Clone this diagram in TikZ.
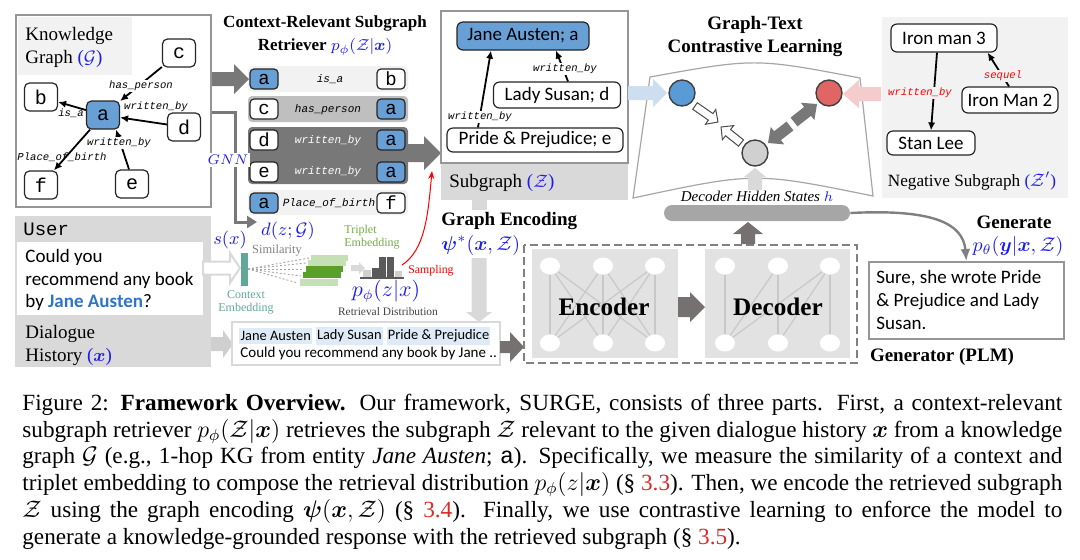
\documentclass[tikz,border=0pt]{standalone}
\usepackage{amsmath}
\usepackage{bm}
\usepackage{fontspec}
\setmainfont{Liberation Serif}
\setmonofont{Liberation Mono}
\newfontfamily\carl{Carlito}
\usetikzlibrary{arrows.meta,calc,shapes.geometric}
\newcommand{\fsz}[2]{\fontsize{#1}{#2}\selectfont}
\definecolor{mblue}{RGB}{30,30,235}
\definecolor{nodeblue}{RGB}{104,159,213}
\definecolor{framegray}{RGB}{150,150,150}
\definecolor{lgray}{RGB}{242,242,242}
\definecolor{mgray}{RGB}{191,191,191}
\definecolor{dgray}{RGB}{120,120,120}
\definecolor{darr}{RGB}{118,113,113}
\definecolor{bandgray}{RGB}{217,217,217}
\definecolor{arrlg}{RGB}{207,207,207}
\definecolor{tealc}{RGB}{95,168,152}
\definecolor{tgreen}{RGB}{112,173,71}
\definecolor{lgreen}{RGB}{197,224,180}
\definecolor{dgreen}{RGB}{90,160,40}
\definecolor{hlblue}{RGB}{222,235,247}
\definecolor{jblue}{RGB}{46,117,200}
\definecolor{cblue}{RGB}{91,155,213}
\definecolor{cred}{RGB}{224,102,102}
\definecolor{cgray}{RGB}{208,208,208}
\definecolor{arrblue}{RGB}{204,222,240}
\definecolor{arrpink}{RGB}{244,204,204}
\definecolor{encgray}{RGB}{226,226,226}
\definecolor{hbarc}{RGB}{166,166,166}
\definecolor{histc}{RGB}{90,90,90}
\definecolor{capred}{RGB}{220,40,40}
\definecolor{elink}{RGB}{200,200,200}
\newcommand{\blkarrow}[6]{%
  \coordinate (ba) at #2; \coordinate (bb) at #3;
  \coordinate (bh) at ($(bb)!#6!(ba)$);
  \path[#1] ($(ba)!#4!90:(bb)$) -- ($(bh)!#4!-90:(ba)$) -- ($(bh)!#5!-90:(ba)$) -- (bb)
     -- ($(bh)!#5!90:(ba)$) -- ($(bh)!#4!90:(ba)$) -- ($(ba)!#4!-90:(bb)$) -- cycle;}
\tikzset{
 kgn/.style={draw=black!85, line width=0.6pt, rounded corners=2.5pt, fill=white, minimum width=16.5pt, minimum height=14pt, inner sep=0pt, font=\ttfamily\fsz{10}{12}},
 kgb/.style={kgn, fill=nodeblue},
 rn/.style={kgn, minimum width=14pt, minimum height=10pt, rounded corners=2pt, font=\ttfamily\fsz{9.5}{11}},
 rnb/.style={rn, fill=nodeblue},
 elab/.style={font=\ttfamily\itshape\fsz{5.3}{6}, inner sep=0.6pt, fill=white},
 rlab/.style={font=\ttfamily\itshape\fsz{5.5}{6}, inner sep=0pt},
 sn/.style={draw=black!85, line width=0.6pt, rounded corners=3pt, fill=white, inner sep=0pt, font=\carl\fsz{9.5}{11}},
 kedge/.style={draw=black, line width=0.9pt, -{Latex[length=4pt,width=3.6pt]}},
 kframe/.style={draw=framegray, line width=1.2pt, fill=white},
 sertxt/.style={font=\fsz{9.5}{11.5}, inner sep=0pt},
 bttl/.style={font=\bfseries\fsz{9.5}{11.5}, inner sep=0pt},
 smalltxt/.style={font=\fsz{6}{6.5}, inner sep=0pt},
 mathb/.style={text=mblue, inner sep=0pt},
 enode/.style={ellipse, fill=white, minimum width=10pt, minimum height=8.5pt, inner sep=0pt},
 elk/.style={draw=elink, line width=0.6pt},
 hlt/.style={fill=hlblue, font=\carl\fsz{7.2}{9}, inner xsep=0.6pt, inner ysep=1.5pt},
 captxt/.style={font=\fsz{11.6}{13.5}, inner sep=0pt, anchor=base west},
 circ/.style={circle, draw=black!75, line width=0.7pt, minimum size=13pt, inner sep=0pt}
}
\begin{document}
\begin{tikzpicture}[x=0.5pt,y=-0.5pt]
\useasboundingbox (0,0) rectangle (1080,559);

% ---------------- Knowledge graph ----------------
\draw[kframe] (16,15) rectangle (211,207);
\fill[lgray] (18,17) rectangle (132,75);
\node[sertxt, anchor=west, align=left] (kgt) at (25,47) {Knowledge\\Graph \textcolor{mblue}{($\mathcal{G}$)}};
\node[kgn] (c) at (179,53) {c};
\node[kgn] (b) at (41,97) {b};
\node[kgb] (a) at (103,115) {a};
\node[kgn] (d) at (184,127) {d};
\node[kgn] (f) at (41,185) {f};
\node[kgn] (e) at (132,184) {e};
\draw[kedge] (c) -- (a);
\draw[kedge] (a) -- (b);
\draw[kedge] (d) -- (a);
\draw[kedge] ($(e.north)+(-3,0)$) -- ($(a.south)+(13,0)$);
\draw[kedge] (a) -- (f);
\node[elab] at (141,86) {has\_person};
\node[elab, fill=none] at (71,113) {is\_a};
\node[elab, fill=none] at (156,107) {written\_by};
\node[elab] at (119,143) {written\_by};
\node[elab, fill=none] at (62,157) {Place\_of\_birth};

% ---------------- Retriever ----------------
\node[bttl, font=\bfseries\fsz{8.5}{11.5}, align=center] (rtitle) at (325,36) {Context-Relevant Subgraph\\Retriever \textcolor{mblue}{$p_\phi(\mathcal{Z}|\bm{x})$}};
\fill[lgray, rounded corners=2pt] (248,66) rectangle (408,92);
\fill[mgray, rounded corners=2pt] (248,96) rectangle (408,122);
\fill[dgray, rounded corners=2pt] (248,127) rectangle (408,184);
\fill[lgray, rounded corners=2pt] (248,190) rectangle (408,215);
\node[rnb] (r1a) at (264,79) {a};  \node[rlab] (r1l) at (330,79) {is\_a};        \node[rn] (r1b) at (391,79) {b};
\node[rn] (r2c) at (264,109) {c};  \node[rlab] (r2l) at (328,110) {has\_person}; \node[rnb] (r2a) at (391,109) {a};
\node[rn] (r3d) at (264,140) {d};  \node[rlab, text=white] (r3l) at (328,141) {written\_by}; \node[rnb] (r3a) at (391,140) {a};
\node[rn] (r4e) at (264,172) {e};  \node[rlab, text=white] (r4l) at (328,172) {written\_by}; \node[rnb] (r4a) at (391,172) {a};
\node[rnb] (r5a) at (264,203) {a}; \node[rlab] (r5l) at (329,203) {Place\_of\_birth}; \node[rn] (r5f) at (391,203) {f};

\blkarrow{fill=dgray}{(212,79)}{(249,79)}{3.5pt}{7.5pt}{7.5pt}
\blkarrow{fill=dgray}{(407,153)}{(441,153)}{4.5pt}{8.5pt}{8.5pt}

% GNN line
\draw[dgray, line width=1.5pt, -{Triangle[length=5pt,width=6pt]}] (212,112) -| (235,222) -- (257,222);
\node[fill=white, inner sep=1pt, text=mblue, font=\fsz{7}{9}] (gnn) at (228,160) {$GNN$};
\node[mathb, font=\fsz{9.5}{11}] (dz) at (288,231) {$d(z;\mathcal{G})$};

% ---------------- Subgraph ----------------
\fill[bandgray] (441,163) rectangle (628,200);
\draw[kframe] (441,11) rectangle (628,163);
\node[sn, fill=nodeblue, minimum width=66pt, minimum height=14pt] (ja) at (523,36) {Jane Austen; a};
\node[sn, minimum width=63.5pt, minimum height=13pt] (ls) at (557,95) {Lady Susan; d};
\node[sn, minimum width=88pt, minimum height=12pt] (pp) at (535,140) {Pride \& Prejudice; e};
\draw[kedge] ($(pp.north)+(-57,0)$) -- ($(ja.south)+(-32,0)$);
\draw[kedge] ($(ls.north)+(11,0)$) -- ($(ja.south)+(33,0)$);
\node[elab] at (480,117) {written\_by};
\node[elab] at (565,69) {written\_by};
\node[sertxt, anchor=west] (sgl) at (449,183) {Subgraph \textcolor{mblue}{($\mathcal{Z}$)}};
\fill[bandgray] (472,200) rectangle (487,210);
\node[bttl, anchor=west] (ge) at (441,221) {Graph Encoding};
\node[mathb, anchor=west, font=\fsz{10}{12}] (psi) at (441,245) {$\bm{\psi}^*(\bm{x},\mathcal{Z})$};
\blkarrow{fill=bandgray}{(479,258)}{(479,322)}{3.75pt}{6.5pt}{5pt}

% ---------------- User / dialogue ----------------
\fill[bandgray] (15,216) rectangle (211,367);
\node[anchor=west, inner sep=0pt, font=\ttfamily\fsz{9.5}{11}] (user) at (23,229) {User};
\fill[white] (17,242) rectangle (203,315);
\node[anchor=west, align=left, inner sep=0pt, font=\carl\fsz{9.5}{11.25}] (utext) at (25,280) {Could you\\recommend any book\\by \textcolor{jblue}{\textbf{Jane Austen}}?};
\node[sertxt, anchor=west, align=left] (dh) at (25,345) {Dialogue\\History \textcolor{mblue}{($\bm{x}$)}};
\blkarrow{draw=bandgray, line width=1pt, fill=white}{(203,268)}{(240,268)}{3.25pt}{7.5pt}{5pt}
\blkarrow{fill=arrlg}{(211,344)}{(233,344)}{3.5pt}{7pt}{5pt}

\node[mathb, font=\fsz{9.5}{11}] (sx) at (230,240) {$s(x)$};
\fill[tealc] (241,253) rectangle (248,286);
\node[smalltxt, text=gray, font=\fsz{6.2}{7}] (sim) at (277,251) {Similarity};
\foreach \yy/\xx in {258/309,263/306,269/304,276/301,283/298}
  \draw[gray!70, line width=0.45pt, dash pattern=on 1pt off 1pt] (248,269) -- (\xx,\yy);
\fill[lgreen] (311,255) rectangle (348,261);
\fill[lgreen] (308,260) rectangle (346,266);
\fill[dgreen] (306,266) rectangle (343,272);
\fill[dgreen] (303,272) rectangle (341,278);
\fill[lgreen] (300,279) rectangle (338,286);
\node[smalltxt, text=tgreen, anchor=west, align=left] (tE) at (344,237) {Triplet\\Embedding};
\node[smalltxt, text=tealc, align=center] (cE) at (246,302) {Context\\Embedding};
\blkarrow{fill=bandgray}{(351,268)}{(365,268)}{1.5pt}{3pt}{3pt}
\fill[cgray] (363,270) rectangle (371,278);
\fill[histc] (372,268) rectangle (378.5,278);
\fill[histc] (379,257) rectangle (386,278);
\fill[histc] (386.5,257) rectangle (394,278);
\fill[cgray] (394.5,271) rectangle (402,278);
\draw[histc, line width=1pt] (360,278) -- (404,278);
\node[mathb, font=\fsz{10.5}{12}] (pz) at (386,291) {$p_\phi(z|x)$};
\node[smalltxt, text=black!75, font=\fsz{5.7}{6.5}] (rd) at (388,312) {Retrieval Distribution};
\node[smalltxt, text=red, font=\fsz{5.9}{6.5}] (samp) at (431,271) {Sampling};
\draw[red, line width=0.5pt, -{Stealth[length=4pt,width=3pt]}] (402,265) .. controls (425,250) and (428,215) .. (432,171);

% dialogue box
\node[draw=bandgray, line width=1pt, minimum width=134pt, minimum height=21.5pt, inner sep=0pt] (dlg) at (366,343.5) {};
\node[hlt, anchor=west] (h1) at (239,336) {Jane Austen};
\node[hlt, anchor=west] (h2) at ($(h1.east)+(3,0)$) {Lady Susan};
\node[hlt, anchor=west] (h3) at ($(h2.east)+(3,0)$) {Pride \& Prejudice};
\node[anchor=west, inner xsep=1pt, inner ysep=0pt, font=\carl\fsz{7.5}{9}] (l2) at (238,353) {Could you recommend any book by Jane ..};
\blkarrow{fill=darr}{(500,347)}{(524,347)}{3pt}{7.5pt}{7pt}

% ---------------- Encoder / decoder ----------------
\draw[gray, line width=1pt, dash pattern=on 4pt off 2pt] (524,245) rectangle (857,363);
\fill[encgray] (532,249) rectangle (678,358);
\fill[encgray] (705,249) rectangle (850,358);
\foreach \i/\xx in {1/550,2/603,3/655} {
  \node[enode] (et\i) at (\xx,266) {};
  \node[enode] (eb\i) at (\xx,343) {};
}
\foreach \i/\xx in {1/725,2/778,3/830} {
  \node[enode] (dt\i) at (\xx,266) {};
  \node[enode] (db\i) at (\xx,343) {};
}
\foreach \i in {1,2,3} \foreach \j in {1,2,3} \draw[elk] (et\i) -- (eb\j);
\foreach \i/\j in {1/1,1/2,1/3,2/2,2/3,3/3} \draw[elk] (db\i) -- (dt\j);
\node[font=\bfseries\fsz{12.6}{14}, inner sep=0pt] (enc) at (604,307) {Encoder};
\node[font=\bfseries\fsz{12.6}{14}, inner sep=0pt] (dec) at (778,307) {Decoder};
\blkarrow{fill=darr}{(678,307)}{(705,307)}{5pt}{7.5pt}{7.5pt}
\blkarrow{fill=darr}{(748,244)}{(748,222)}{3.5pt}{7.5pt}{6pt}
\node[fill=hbarc, rounded corners=4pt, minimum width=93pt, minimum height=8pt, inner sep=0pt] (hb) at (757,213) {};

% ---------------- Generate ----------------
\node[bttl] (gen) at (1014,222) {Generate};
\node[mathb, font=\fsz{10}{12}] (pt) at (1018,246) {$p_\theta(\bm{y}|\bm{x},\mathcal{Z})$};
\node[draw=framegray, line width=0.9pt, anchor=north west, minimum width=97.5pt, minimum height=38.5pt, inner sep=0pt] (resp) at (868,261) {};
\node[anchor=west, align=left, inner sep=0pt, font=\carl\fsz{9.5}{11.5}] (rtext) at (876,300) {Sure, she wrote Pride\\\& Prejudice and Lady\\Susan.};
\node[bttl] (plm) at (942,357) {Generator (PLM)};
\draw[draw=gray, line width=1.2pt, -{Latex[length=6pt,width=5pt]}] (hb.east) .. controls (930,209) and (963,222) .. (resp.north);

% ---------------- Contrastive ----------------
\node[bttl, align=center] (ctitle) at (755,36) {Graph-Text\\Contrastive Learning};
\draw[draw=gray!70, line width=0.6pt, fill=white] (650,77) .. controls (755,58) .. (860,78) -- (873,196) .. controls (755,172) .. (633,198) -- cycle;
\blkarrow{fill=arrblue}{(628,93)}{(667,93)}{3.5pt}{7pt}{7pt}
\blkarrow{fill=arrpink}{(881,94)}{(843,94)}{3.5pt}{7pt}{8pt}
\blkarrow{fill=bandgray}{(755,190)}{(755,168)}{3.5pt}{5.5pt}{4.5pt}
\node[circ, fill=cblue] (cb) at (682,93) {};
\node[circ, fill=cred] (cr) at (829,93) {};
\node[circ, fill=cgray] (cg) at (755,153) {};
\blkarrow{draw=black!70, line width=0.5pt, fill=white}{(695,106)}{(718,122)}{2pt}{4.5pt}{4.5pt}
\blkarrow{draw=black!70, line width=0.5pt, fill=white}{(741,143)}{(721,127)}{2pt}{4.5pt}{4.5pt}
\blkarrow{fill=dgray}{(794,122)}{(817,104)}{2.8pt}{5.5pt}{6pt}
\blkarrow{fill=dgray}{(790,126)}{(768,143)}{2.8pt}{5.5pt}{6pt}
\node[font=\itshape\fsz{7.5}{8}, inner sep=0pt] (dhs) at (757,196) {Decoder Hidden States \textcolor{mblue}{$h$}};

% ---------------- Negative subgraph ----------------
\fill[lgray] (882,17) rectangle (1068,198);
\node[sn, minimum width=53pt, minimum height=14pt] (im3) at (944,38) {Iron man 3};
\node[sn, minimum width=48pt, minimum height=13pt] (im2) at (1010,100) {Iron Man 2};
\node[sn, minimum width=44pt, minimum height=12pt] (sl) at (931,143) {Stan Lee};
\draw[kedge] ($(im3.south)+(-7,0)$) -- (sl.north);
\draw[kedge] ($(im2.north)+(-1,0)$) -- ($(im3.south east)+(-10,0)$);
\node[elab, text=red, fill=lgray] at (920,93) {written\_by};
\node[elab, text=red, fill=lgray] at (1003,76) {sequel};
\node[sertxt, font=\fsz{8.6}{10}] (nsg) at (972,181) {Negative Subgraph \textcolor{mblue}{($\mathcal{Z}'$)}};

% ---------------- Caption ----------------
\node[captxt] (c1) at (22,410) {\makebox[520pt][s]{Figure 2: \textbf{Framework Overview.} Our framework, SURGE, consists of three parts. First, a context-relevant}};
\node[captxt] (c2) at (22,437) {\makebox[520pt][s]{subgraph retriever $p_\phi(\mathcal{Z}|\bm{x})$ retrieves the subgraph $\mathcal{Z}$ relevant to the given dialogue history $\bm{x}$ from a knowledge}};
\node[captxt] (c3) at (22,463) {\makebox[520pt][s]{graph $\mathcal{G}$ (e.g., 1-hop KG from entity \textit{Jane Austen}; \texttt{a}). Specifically, we measure the similarity of a context and}};
\node[captxt] (c4) at (22,490) {\makebox[520pt][s]{triplet embedding to compose the retrieval distribution $p_\phi(z|\bm{x})$ (\S~\textcolor{capred}{3.3}). Then, we encode the retrieved subgraph}};
\node[captxt] (c5) at (22,517) {\makebox[520pt][s]{$\mathcal{Z}$ using the graph encoding $\bm{\psi}(\bm{x},\mathcal{Z})$ (\S~\textcolor{capred}{3.4}). Finally, we use contrastive learning to enforce the model to}};
\node[captxt] (c6) at (22,544) {generate a knowledge-grounded response with the retrieved subgraph (\S~\textcolor{capred}{3.5}).};
\end{tikzpicture}
\end{document}
